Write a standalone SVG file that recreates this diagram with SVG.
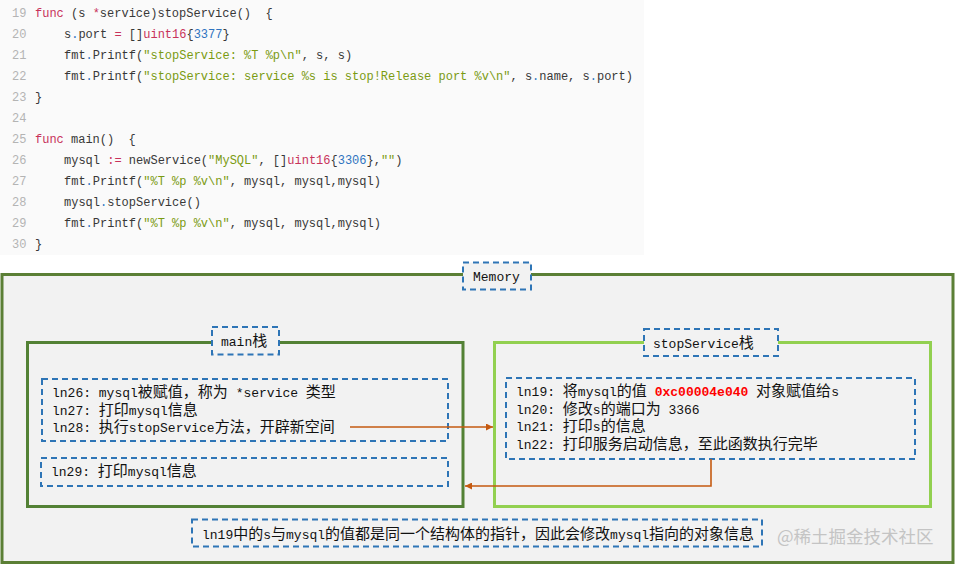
<svg xmlns="http://www.w3.org/2000/svg" width="955" height="565" viewBox="0 0 955 565">
<defs>
<style>
.code{font-family:"Liberation Mono","DejaVu Sans Mono",monospace;font-size:12px;fill:#383838;white-space:pre}
.ln{fill:#b4b4b4}
.kw{fill:#c8325a}
.str{fill:#7a9b12}
.num{fill:#2f74c0}
.dot{fill:#2f74c0}
.t{font-family:"Liberation Mono","Noto Sans CJK SC",monospace;font-size:13px;fill:#111;white-space:pre}
.c{font-family:"Noto Sans CJK SC",sans-serif;font-size:15px}
.dash{fill:none;stroke:#2e75b6;stroke-width:2;stroke-dasharray:6 4}
.lbl{fill:#f2f2f2;stroke:#2e75b6;stroke-width:2;stroke-dasharray:6 4}
.conn{fill:none;stroke:#c55a11;stroke-width:1.6}
</style>
<marker id="ah" viewBox="0 0 10 10" refX="10" refY="5" markerWidth="7" markerHeight="7" markerUnits="userSpaceOnUse" orient="auto">
<path d="M0,0 L10,5 L0,10 z" fill="#c55a11"/>
</marker>
</defs>
<rect width="955" height="565" fill="#ffffff"/>
<g id="code">
<rect x="0" y="0" width="644" height="255" fill="#fafafa"/>
<g class="code" xml:space="preserve">
<text x="12" y="17"><tspan class="ln">19</tspan></text>
<text x="35" y="17"><tspan class="kw">func</tspan> (s <tspan class="kw">*</tspan>service)stopService()&#160; {</text>
<text x="12" y="38"><tspan class="ln">20</tspan></text>
<text x="64" y="38">s<tspan class="dot">.</tspan>port <tspan class="kw">=</tspan> []<tspan class="kw">uint16</tspan>{<tspan class="num">3377</tspan>}</text>
<text x="12" y="59"><tspan class="ln">21</tspan></text>
<text x="64" y="59">fmt<tspan class="dot">.</tspan>Printf(<tspan class="str">"stopService: %T %p\n"</tspan>, s, s)</text>
<text x="12" y="80"><tspan class="ln">22</tspan></text>
<text x="64" y="80">fmt<tspan class="dot">.</tspan>Printf(<tspan class="str">"stopService: service %s is stop!Release port %v\n"</tspan>, s<tspan class="dot">.</tspan>name, s<tspan class="dot">.</tspan>port)</text>
<text x="12" y="101"><tspan class="ln">23</tspan></text>
<text x="35" y="101">}</text>
<text x="12" y="122"><tspan class="ln">24</tspan></text>
<text x="12" y="143"><tspan class="ln">25</tspan></text>
<text x="35" y="143"><tspan class="kw">func</tspan> main()&#160; {</text>
<text x="12" y="164"><tspan class="ln">26</tspan></text>
<text x="64" y="164">mysql <tspan class="kw">:=</tspan> newService(<tspan class="str">"MySQL"</tspan>, []<tspan class="kw">uint16</tspan>{<tspan class="num">3306</tspan>},<tspan class="str">""</tspan>)</text>
<text x="12" y="185"><tspan class="ln">27</tspan></text>
<text x="64" y="185">fmt<tspan class="dot">.</tspan>Printf(<tspan class="str">"%T %p %v\n"</tspan>, mysql, mysql,mysql)</text>
<text x="12" y="206"><tspan class="ln">28</tspan></text>
<text x="64" y="206">mysql<tspan class="dot">.</tspan>stopService()</text>
<text x="12" y="227"><tspan class="ln">29</tspan></text>
<text x="64" y="227">fmt<tspan class="dot">.</tspan>Printf(<tspan class="str">"%T %p %v\n"</tspan>, mysql, mysql,mysql)</text>
<text x="12" y="248"><tspan class="ln">30</tspan></text>
<text x="35" y="248">}</text>
</g>
</g>
<g id="memory">
<rect x="2" y="274.5" width="951" height="288" fill="#f2f2f2" stroke="#5b7f35" stroke-width="3"/>
<rect class="lbl" x="463" y="262.5" width="68" height="27"/>
<text class="t" x="473" y="280.5">Memory</text>
</g>
<g id="main-stack">
<rect x="27.5" y="342.5" width="435.5" height="164" fill="none" stroke="#538135" stroke-width="3"/>
<rect class="lbl" x="212" y="327" width="67" height="27.5"/>
<text class="t" x="221" y="346">main<tspan class="c">栈</tspan></text>
</g>
<g id="main-lines-1">
<rect class="dash" x="42" y="379" width="406" height="62"/>
<text class="t" x="52" y="397" xml:space="preserve">ln26: mysql<tspan class="c">被赋值，称为</tspan> *service <tspan class="c">类型</tspan></text>
<text class="t" x="52" y="414.5">ln27: <tspan class="c">打印</tspan>mysql<tspan class="c">信息</tspan></text>
<text class="t" x="52" y="432">ln28: <tspan class="c">执行</tspan>stopService<tspan class="c">方法，开辟新空间</tspan></text>
</g>
<g id="main-lines-2">
<rect class="dash" x="41" y="458" width="407" height="28"/>
<text class="t" x="51" y="476">ln29: <tspan class="c">打印</tspan>mysql<tspan class="c">信息</tspan></text>
</g>
<g id="stop-stack">
<rect x="494.5" y="342.5" width="436" height="164" fill="none" stroke="#92d050" stroke-width="3"/>
<rect class="lbl" x="644" y="329" width="134" height="27"/>
<text class="t" x="653" y="347.5">stopService<tspan class="c">栈</tspan></text>
</g>
<g id="stop-lines">
<rect class="dash" x="506" y="378" width="409" height="81"/>
<text class="t" x="516" y="396" xml:space="preserve">ln19: <tspan class="c">将</tspan>mysql<tspan class="c">的值</tspan> <tspan fill="#ff0000" font-weight="bold">0xc00004e040</tspan> <tspan class="c">对象赋值给</tspan>s</text>
<text class="t" x="516" y="413.5" xml:space="preserve">ln20: <tspan class="c">修改</tspan>s<tspan class="c">的端口为</tspan> 3366</text>
<text class="t" x="516" y="431">ln21: <tspan class="c">打印</tspan>s<tspan class="c">的信息</tspan></text>
<text class="t" x="516" y="449">ln22: <tspan class="c">打印服务启动信息，至此函数执行完毕</tspan></text>
</g>
<g id="note">
<rect class="dash" x="192" y="519.5" width="570" height="27"/>
<text class="t" x="202" y="538.5">ln19<tspan class="c">中的</tspan>s<tspan class="c">与</tspan>mysql<tspan class="c">的值都是同一个结构体的指针，因此会修改</tspan>mysql<tspan class="c">指向的对象信息</tspan></text>
</g>
<g id="connectors">
<path class="conn" d="M350,427 L493,427" marker-end="url(#ah)"/>
<path class="conn" d="M711,459 L711,486 L465,486" marker-end="url(#ah)"/>
</g>
<text x="777" y="543" font-family="'Noto Sans CJK SC','Noto Sans',sans-serif" font-size="17.5" fill="#c4c4c4">@稀土掘金技术社区</text>
</svg>
